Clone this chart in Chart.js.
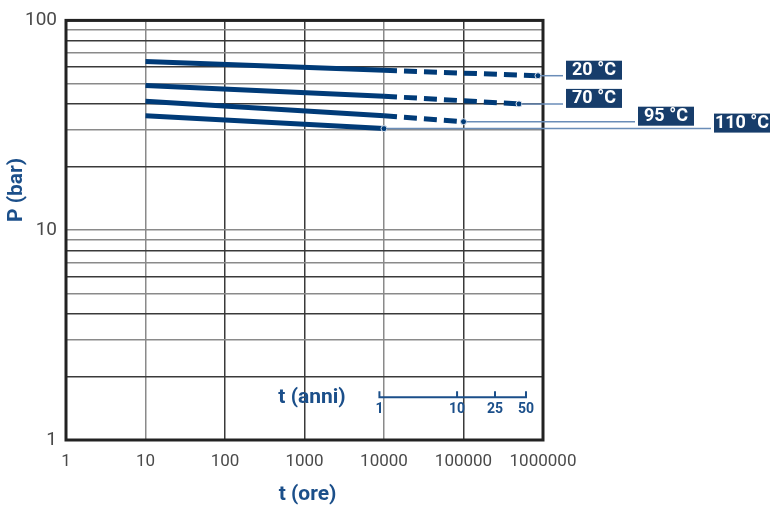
<!DOCTYPE html>
<html>
<head>
<meta charset="utf-8">
<script src="https://cdn.jsdelivr.net/npm/chart.js@4.4.0/dist/chart.umd.min.js"></script>
<style>
  html, body { margin: 0; padding: 0; background: #fff; }
  #wrap { width: 770px; height: 507px; position: relative; }
</style>
</head>
<body>
<div id="wrap"><canvas id="c" width="770" height="507"></canvas></div>
<script>
// ---- data ----
const seriesNames = ['20 °C', '70 °C', '95 °C', '110 °C'];
const solidHours = [10, 10000];
const startP = [63.7, 49.0, 41.2, 35.1];   // P at 10 h
const midP   = [57.8, 43.5, 35.1, 30.5];   // P at 10000 h
const endHours = [865000, 499000, 100000, null];
const endP     = [54.5, 40.0, 32.9, null];
const xTicks = [1, 10, 100, 1000, 10000, 100000, 1000000];
const yTicks = [1,2,3,4,5,6,7,8,9,10,20,30,40,50,60,70,80,90,100];
const anniLabels = ['1', '10', '25', '50'];
const anniHours  = [8760, 83000, 249000, 611000];

// ---- styles / layout ----
const NAVY = '#003b78';
const TITLE = '#1b4f8a';
const BOX = '#173d6b';
const LEADER = '#6a8db8';
const FONT = '"Roboto", "Liberation Sans", sans-serif';
const boxLeft = [566, 566, 638, 714];
const anniY = 1.6;

const datasets = [];
seriesNames.forEach((n, i) => {
  const solidEndIsLast = endHours[i] === null;
  datasets.push({
    label: n,
    data: [{x: solidHours[0], y: startP[i]}, {x: solidHours[1], y: midP[i]}],
    borderColor: NAVY, borderWidth: 5, fill: false, tension: 0,
    pointRadius: solidEndIsLast ? (c => c.dataIndex === 1 ? 3 : 0) : 0,
    pointBackgroundColor: NAVY, pointBorderColor: '#d6deea', pointBorderWidth: 1
  });
  if (!solidEndIsLast) {
    datasets.push({
      label: n + ' ext',
      data: [{x: solidHours[1], y: midP[i]}, {x: endHours[i], y: endP[i]}],
      borderColor: NAVY, borderWidth: 5, borderDash: [13, 7], fill: false, tension: 0,
      pointRadius: c => c.dataIndex === 1 ? 3 : 0,
      pointBackgroundColor: NAVY, pointBorderColor: '#d6deea', pointBorderWidth: 1
    });
  }
});

function gridColorY(ctx) {
  const v = ctx.tick ? ctx.tick.value : 0;
  const s = Math.round(v / Math.pow(10, Math.floor(Math.log10(v) + 1e-9)));
  return (s % 2 === 0) ? '#3a3a3a' : '#8a8a8a';
}
function gridColorX(ctx) {
  const v = ctx.tick ? ctx.tick.value : 0;
  const e = Math.round(Math.log10(v));
  return (e === 1 || e === 4) ? '#8a8a8a' : '#3a3a3a';
}

const overlay = {
  id: 'overlay',
  afterDatasetsDraw(chart) {
    const {ctx, chartArea: a, scales: {x, y}} = chart;
    ctx.save();
    // frame
    ctx.strokeStyle = '#222';
    ctx.lineWidth = 3;
    ctx.strokeRect(a.left, a.top, a.right - a.left, a.bottom - a.top);

    // leaders + label boxes
    seriesNames.forEach((n, i) => {
      const hx = endHours[i] === null ? solidHours[1] : endHours[i];
      const pv = endP[i] === null ? midP[i] : endP[i];
      const px = x.getPixelForValue(hx);
      const py = y.getPixelForValue(pv);
      ctx.strokeStyle = LEADER;
      ctx.lineWidth = 1.5;
      ctx.beginPath();
      ctx.moveTo(px + 3, py);
      ctx.lineTo(boxLeft[i] - 3, py);
      ctx.stroke();
      ctx.fillStyle = BOX;
      ctx.fillRect(boxLeft[i], py - 15, 56, 19);
      ctx.fillStyle = '#fff';
      ctx.font = 'bold 18px ' + FONT;
      ctx.textAlign = 'center';
      ctx.textBaseline = 'middle';
      ctx.fillText(n, boxLeft[i] + 28, py - 5);
    });
    ctx.restore();

    // anni axis
    ctx.save();
    const ay = y.getPixelForValue(anniY);
    const ax0 = x.getPixelForValue(anniHours[0]);
    const ax1 = x.getPixelForValue(anniHours[anniHours.length - 1]);
    ctx.strokeStyle = TITLE;
    ctx.lineWidth = 2;
    ctx.beginPath();
    ctx.moveTo(ax0, ay); ctx.lineTo(ax1, ay);
    anniHours.forEach(h => {
      const tx = x.getPixelForValue(h);
      ctx.moveTo(tx, ay + 1); ctx.lineTo(tx, ay - 6);
    });
    ctx.stroke();
    ctx.fillStyle = TITLE;
    ctx.font = 'bold 14px ' + FONT;
    ctx.textAlign = 'center';
    ctx.textBaseline = 'middle';
    anniLabels.forEach((l, k) => {
      ctx.fillText(l, x.getPixelForValue(anniHours[k]), ay + 12);
    });
    ctx.font = 'bold 21px ' + FONT;
    ctx.fillText('t (anni)', 312, ay + 1);

    // axis titles
    ctx.fillText('t (ore)', (a.left + a.right) / 2 + 3, 495);
    ctx.translate(17, 190);
    ctx.rotate(-Math.PI / 2);
    ctx.fillText('P (bar)', 0, 0);
    ctx.restore();
  }
};

new Chart(document.getElementById('c'), {
  type: 'line',
  data: { datasets },
  plugins: [overlay],
  options: {
    responsive: false,
    animation: false,
    events: [],
    layout: { padding: { left: 0, right: 227, top: 18, bottom: 0 } },
    plugins: { legend: { display: false }, tooltip: { enabled: false } },
    scales: {
      x: {
        type: 'logarithmic', min: 1, max: 1000000,
        afterBuildTicks: s => { s.ticks = xTicks.map(v => ({value: v})); },
        afterFit: s => { s.height = 67; },
        grid: { color: gridColorX, lineWidth: 1.5, drawTicks: false },
        border: { display: false },
        ticks: {
          autoSkip: false, maxRotation: 0, padding: 12,
          color: '#4a4a4a',
          font: { family: FONT, size: 17 },
          callback: v => String(v)
        }
      },
      y: {
        type: 'logarithmic', min: 1, max: 100,
        afterBuildTicks: s => { s.ticks = yTicks.map(v => ({value: v})); },
        afterFit: s => { s.width = 66; },
        grid: { color: gridColorY, lineWidth: 1.5, drawTicks: false },
        border: { display: false },
        ticks: {
          autoSkip: false, padding: 9,
          color: '#4a4a4a',
          font: { family: FONT, size: 19 },
          callback: v => ([1, 10, 100].includes(v) ? String(v) : '')
        }
      }
    }
  }
});
</script>
</body>
</html>
